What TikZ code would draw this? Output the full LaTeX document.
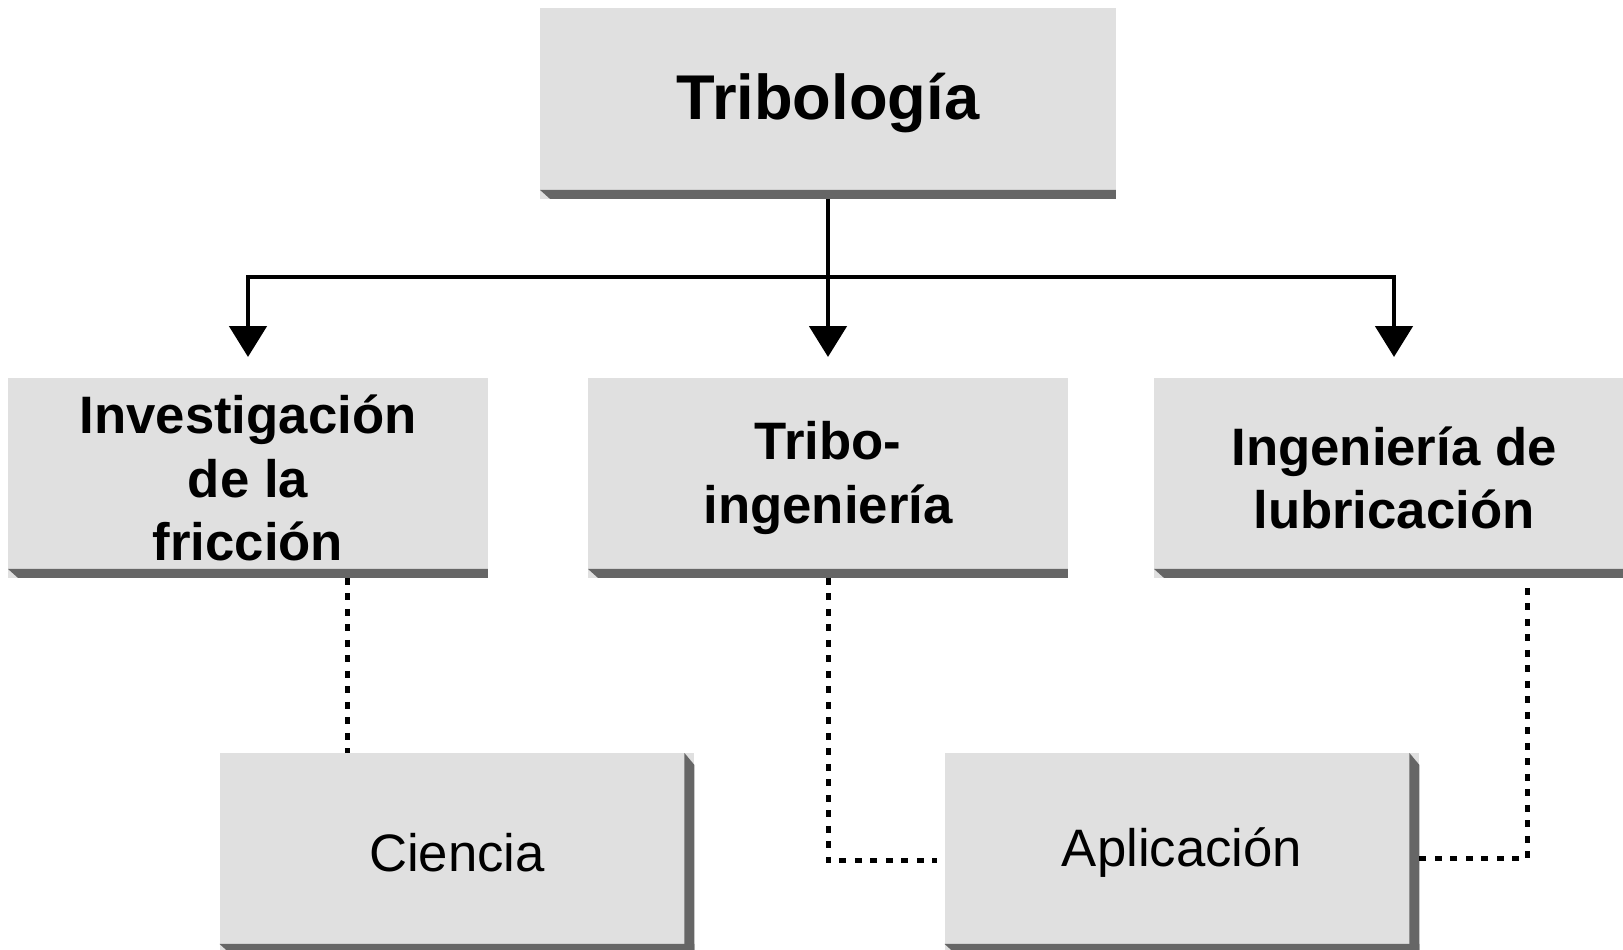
\documentclass[tikz,border=0pt]{standalone}
\usepackage{fontspec}
\setmainfont{Liberation Sans}
\usetikzlibrary{arrows.meta,calc,positioning}
\definecolor{stipple}{gray}{0.88}
\definecolor{bevel}{gray}{0.40}
\tikzset{
    tree root/.style={
        fill=stipple,
        minimum width=11.52cm,
        minimum height=3.82cm,
        inner sep=0pt,
        outer sep=0pt,
        align=center,
        font=\fontsize{36}{43}\selectfont\bfseries
    },
    tree branch/.style={
        fill=stipple,
        minimum width=9.6cm,
        minimum height=4.0cm,
        inner sep=0pt,
        outer sep=0pt,
        align=center,
        font=\fontsize{30}{36}\selectfont\bfseries
    },
    tree leaf/.style={
        fill=stipple,
        minimum width=9.5cm,
        minimum height=4.0cm,
        inner sep=0pt,
        outer sep=0pt,
        align=center,
        font=\fontsize{30}{36}\selectfont
    },
    tree line/.style={line width=2.8pt},
    tree arrow/.style={-{Triangle[length=0.62cm,width=0.74cm]}, line width=2.8pt, shorten >=0.42cm},
    tree link/.style={line width=0.1cm, dash pattern=on 0.14cm off 0.17cm},
    box bevel/.style={fill=bevel}
}

\begin{document}
\begin{tikzpicture}[x=0.02cm,y=0.02cm]
    \useasboundingbox (0,0) rectangle (1623,950);

    \node[tree root] (tri) at (828,846.5) {Tribología};

    \node[tree branch] (inv) at (248,472) {Investigación\\de la\\fricción};
    \node[tree branch] (tribo) at (828,472) {Tribo-\\ingeniería};
    \node[tree branch] (lub) at (1394,472) {Ingeniería de\\lubricación};

    \node[tree leaf] (cien) at (457,97) {Ciencia};
    \node[tree leaf] (apl) at (1182,97) {Aplicación};

    \foreach \b in {tri,inv,tribo,lub,cien,apl}
        \fill[box bevel] ($(\b.south west)+(10,0)$) -- (\b.south east)
            -- ($(\b.south east)+(0,9)$) -- ($(\b.south west)+(0,9)$) -- cycle;
    \foreach \b in {cien,apl}
        \fill[box bevel] ($(\b.north east)+(-10,0)$) -- ($(\b.north east)+(0,-12)$)
            -- (\b.south east) -- ($(\b.south east)+(-10,0)$) -- cycle;

    \coordinate (split) at ($(tri.south)+(0,-78)$);
    \draw[tree line] (tri.south) -- (split);
    \draw[tree arrow] (split) -| (inv.north);
    \draw[tree arrow] (split) -- (tribo.north);
    \draw[tree arrow] (split) -| (lub.north);

    \coordinate (invfoot) at ($(inv.south)+(99,0)$);
    \coordinate (lubfoot) at ($(lub.south)+(133,-10)$);
    \coordinate (aplleft) at ($(apl.west)+(-8,-8)$);
    \coordinate (aplright) at ($(apl.east)+(0,-6)$);
    \draw[tree link] (invfoot) -- (invfoot |- cien.north);
    \draw[tree link] (tribo.south) |- (aplleft);
    \draw[tree link] (lubfoot) |- (aplright);
\end{tikzpicture}
\end{document}
